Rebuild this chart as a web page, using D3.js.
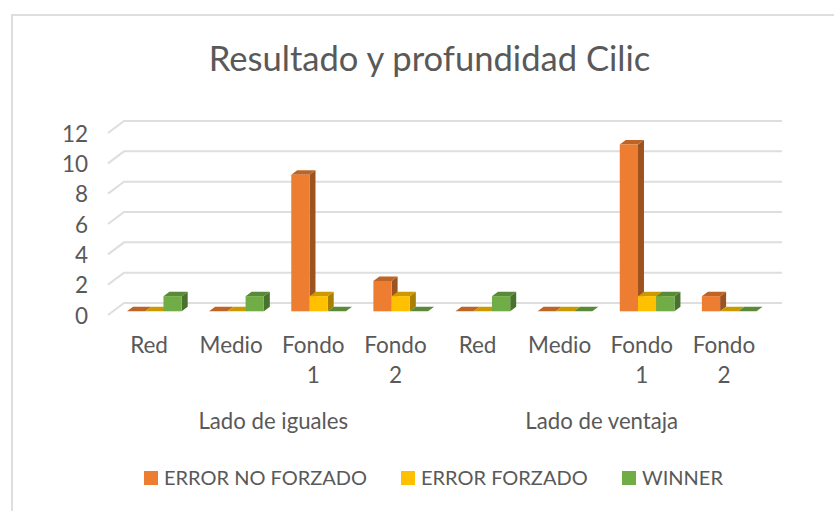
<!DOCTYPE html>
<html>
<head>
<meta charset="utf-8">
<script src="https://d3js.org/d3.v7.min.js"></script>
<style>
  html, body { margin: 0; background: #fff; }
  text { font-family: Lato, sans-serif; fill: #595959; }
</style>
</head>
<body>
<svg class="target" width="834" height="511"></svg>
<script>

// values
const categories = ['Red', 'Medio', 'Fondo 1', 'Fondo 2', 'Red ', 'Medio ', 'Fondo 1 ', 'Fondo 2 ']
const groups = ['Lado de iguales', 'Lado de ventaja']
const seriesNames = ['ERROR NO FORZADO', 'ERROR FORZADO', 'WINNER']
const errorNoForzado = [0, 0, 9, 2, 0, 0, 11, 1]
const errorForzado = [0, 0, 1, 1, 0, 0, 1, 0]
const winner = [1, 1, 0, 0, 1, 0, 1, 0]
const yTicks = [0, 2, 4, 6, 8, 10, 12]
const colors = ['#ED7D31', '#FFC000', '#70AD47']

const allSeries = [errorNoForzado, errorForzado, winner]

const svg = d3.select('.target')

// chart frame
svg.append('rect')
  .attr('x', 12).attr('y', 15)
  .attr('width', 840).attr('height', 520)
  .attr('fill', '#fff').attr('stroke', '#dedede').attr('stroke-width', 2)

svg.append('text')
  .attr('x', 429.5).attr('y', 71)
  .attr('text-anchor', 'middle')
  .style('font-size', '34.6px')
  .text('Resultado y profundidad Cilic')

// y is the back wall of the 3d box, x is the front edge
const y = d3.scaleLinear().domain([0, 12]).range([303, 121])
const x = d3.scaleBand().domain(categories).range([109, 766])
const xSeries = d3.scaleBand().domain(seriesNames).range([18, 72.7])

const wallDx = 16, wallDy = 12   // side wall slant
const barDx = 6, barDy = 4.5     // bar depth
const barFront = 8.3             // how far the bar front sits below the wall base

// gridlines
svg.append('g').selectAll('path')
  .data(yTicks)
  .join('path')
    .attr('fill', 'none')
    .attr('stroke', '#dedede')
    .attr('stroke-width', 2)
    .attr('d', d => `M${108},${y(d) + wallDy}L${108 + wallDx},${y(d)}L782,${y(d)}`)

// tick labels sit level with the front end of the gridlines
const yAxis = d3.axisLeft(y).tickValues(yTicks).tickSize(0).tickPadding(0)
svg.append('g')
  .attr('transform', `translate(88,${wallDy + 1})`)
  .call(yAxis)
  .call(g => g.select('.domain').remove())
  .call(g => g.selectAll('text').style('font-size', '22.5px').style('font-family', 'Lato, sans-serif'))

const shade = (c, k) => {
  const r = d3.rgb(c)
  return d3.rgb(r.r * k, r.g * k, r.b * k).formatHex()
}

// bars, left to right so the later ones cover the side of the earlier
const barGroups = svg.append('g').selectAll('g')
  .data(categories)
  .join('g')
    .attr('transform', d => `translate(${x(d)},0)`)

barGroups.each(function(cat, ci) {
  const g = d3.select(this)
  seriesNames.forEach((name, si) => {
    const v = allSeries[si][ci]
    const x0 = xSeries(name), w = xSeries.bandwidth()
    const base = y(0) + barFront
    const top = base - (y(0) - y(v))
    // side
    if (v > 0) {
      g.append('path')
        .attr('fill', shade(colors[si], 0.66))
        .attr('d', `M${x0 + w},${top}L${x0 + w + barDx},${top - barDy}L${x0 + w + barDx},${base - barDy}L${x0 + w},${base}Z`)
    }
    // top
    g.append('path')
      .attr('fill', shade(colors[si], 0.8))
      .attr('d', `M${x0},${top}L${x0 + barDx},${top - barDy}L${x0 + w + barDx},${top - barDy}L${x0 + w},${top}Z`)
    // front
    if (v > 0) {
      g.append('rect')
        .attr('x', x0).attr('y', top)
        .attr('width', w).attr('height', base - top)
        .attr('fill', colors[si])
    }
  })
})

// category labels, wrapped on the space like the original
const catLabels = svg.append('g').selectAll('text')
  .data(categories)
  .join('text')
    .attr('text-anchor', 'middle')
    .style('font-size', '22.5px')

catLabels.selectAll('tspan')
  .data(d => d.trim().split(' ').map(t => ({ t, cat: d })))
  .join('tspan')
    .attr('x', d => x(d.cat) + x.bandwidth() / 2 - 1)
    .attr('y', (d, i) => 353 + i * 30)
    .text(d => d.t)

// group labels span four categories each
svg.append('g').selectAll('text')
  .data(groups)
  .join('text')
    .attr('text-anchor', 'middle')
    .attr('x', (d, i) => x(categories[i * 4]) + x.bandwidth() * 2)
    .attr('y', 429)
    .style('font-size', '22.2px')
    .text(d => d)

// legend
const legendSwatchX = [144, 401, 622]
const legend = svg.append('g').selectAll('g')
  .data(seriesNames)
  .join('g')
    .attr('transform', (d, i) => `translate(${legendSwatchX[i]},471)`)

legend.append('rect')
  .attr('width', 14).attr('height', 14)
  .attr('fill', (d, i) => colors[i])

legend.append('text')
  .attr('x', 20).attr('y', 14)
  .style('font-size', '20px')
  .text(d => d)

</script>
</body>
</html>
